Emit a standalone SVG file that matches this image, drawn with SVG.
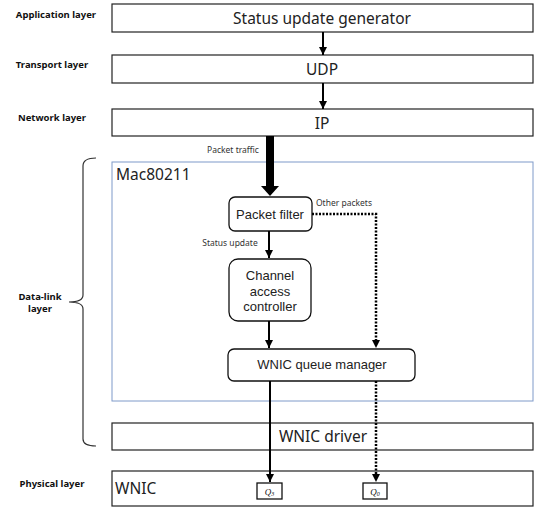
<svg xmlns="http://www.w3.org/2000/svg" width="534" height="508" viewBox="0 0 534 508">
<style>
.layer{fill:#fff;stroke:#222;stroke-width:1.2}
.node{fill:#fff;stroke:#111;stroke-width:1.3}
.big{font-family:"Noto Sans","Liberation Sans",sans-serif;font-size:15.5px;fill:#222}
.mid{font-family:"Liberation Sans","Noto Sans",sans-serif;font-size:13px;fill:#222}
.sm{font-family:"Noto Sans","Liberation Sans",sans-serif;font-size:8.5px;fill:#333}
.lbl{font-family:"Noto Sans","Liberation Sans",sans-serif;font-size:9.5px;font-weight:bold;fill:#111}
.q{font-family:"Liberation Serif",serif;font-size:9px;font-style:italic;fill:#111}
.ar{stroke:#000;stroke-width:2;fill:none}
.dot{stroke:#000;stroke-width:2.5;fill:none;stroke-dasharray:2 1.5}
</style>
<defs>
<marker id="ah" viewBox="0 0 8 8" refX="8" refY="4" markerWidth="8" markerHeight="8" markerUnits="userSpaceOnUse" orient="auto">
<path d="M0,0 L8,4 L0,8 z" fill="#000"/>
</marker>
</defs>
<rect width="534" height="508" fill="#fff"/>

<g id="labels">
<text class="lbl" x="56" y="18" text-anchor="middle">Application layer</text>
<text class="lbl" x="52" y="68" text-anchor="middle">Transport layer</text>
<text class="lbl" x="52" y="121" text-anchor="middle">Network layer</text>
<text class="lbl" x="40" y="300" text-anchor="middle">Data-link</text>
<text class="lbl" x="40" y="312" text-anchor="middle">layer</text>
<text class="lbl" x="52" y="487" text-anchor="middle">Physical layer</text>
<path d="M96,158 Q83,158 83,166 L83,295 Q83,302 69,302 Q83,302 83,309 L83,439 Q83,446 96,446" fill="none" stroke="#333" stroke-width="1.2"/>
</g>

<g id="app">
<rect class="layer" x="112" y="4" width="421" height="28"/>
<text class="big" x="322" y="24" text-anchor="middle">Status update generator</text>
</g>
<g id="udp">
<rect class="layer" x="112" y="55" width="421" height="28"/>
<text class="big" x="322" y="75" text-anchor="middle">UDP</text>
</g>
<g id="ip">
<rect class="layer" x="112" y="109" width="421" height="27"/>
<text class="big" x="322" y="129" text-anchor="middle">IP</text>
</g>
<g id="mac">
<rect x="112" y="162" width="421" height="239" fill="none" stroke="#7F9AC9" stroke-width="1"/>
<text class="big" x="116" y="180">Mac80211</text>
</g>
<g id="filter">
<rect class="node" x="229" y="197" width="83" height="34" rx="6"/>
<text class="mid" x="270" y="218.5" text-anchor="middle">Packet filter</text>
</g>
<g id="cac">
<rect class="node" x="229" y="259" width="82" height="62" rx="9"/>
<text class="mid" x="270" y="280" text-anchor="middle">Channel</text>
<text class="mid" x="270" y="295.5" text-anchor="middle">access</text>
<text class="mid" x="270" y="311" text-anchor="middle">controller</text>
</g>
<g id="qm">
<rect class="node" x="228" y="349" width="187" height="32" rx="6"/>
<text class="mid" x="322" y="369" text-anchor="middle" font-size="12">WNIC queue manager</text>
</g>
<g id="driver">
<rect class="layer" x="112" y="423" width="421" height="27"/>
<text class="big" x="323" y="442" text-anchor="middle">WNIC driver</text>
</g>
<g id="wnic">
<rect class="layer" x="112" y="471" width="421" height="35"/>
<text class="big" x="115" y="494">WNIC</text>
</g>
<g id="q3">
<rect class="node" x="257" y="483" width="25" height="16" stroke-width="1"/>
<text class="q" x="269.5" y="494.5" text-anchor="middle">Q<tspan font-size="6" dy="1.5">3</tspan></text>
</g>
<g id="q0">
<rect class="node" x="363" y="483" width="24" height="16" stroke-width="1"/>
<text class="q" x="375" y="494.5" text-anchor="middle">Q<tspan font-size="6" dy="1.5">0</tspan></text>
</g>

<g id="connectors">
<line class="ar" x1="323" y1="32" x2="323" y2="55" marker-end="url(#ah)"/>
<line class="ar" x1="323" y1="83" x2="323" y2="109" marker-end="url(#ah)"/>
<line x1="270" y1="136" x2="270" y2="188" stroke="#000" stroke-width="8"/>
<polygon points="261,186 279,186 270,196" fill="#000"/>
<text class="sm" x="233" y="153" text-anchor="middle">Packet traffic</text>
<line class="ar" x1="269" y1="231" x2="269" y2="258" marker-end="url(#ah)"/>
<text class="sm" x="230" y="246" text-anchor="middle">Status update</text>
<line class="ar" x1="269" y1="321" x2="269" y2="348" marker-end="url(#ah)"/>
<path class="dot" d="M312,214 H376 V341"/>
<path d="M372,340 L380,340 L376,348 z" fill="#000"/>
<text class="sm" x="344" y="206" text-anchor="middle">Other packets</text>
<line class="ar" x1="270" y1="381" x2="270" y2="482" marker-end="url(#ah)"/>
<path class="dot" d="M376,381 V475"/>
<path d="M372,474 L380,474 L376,482 z" fill="#000"/>
</g>
</svg>
